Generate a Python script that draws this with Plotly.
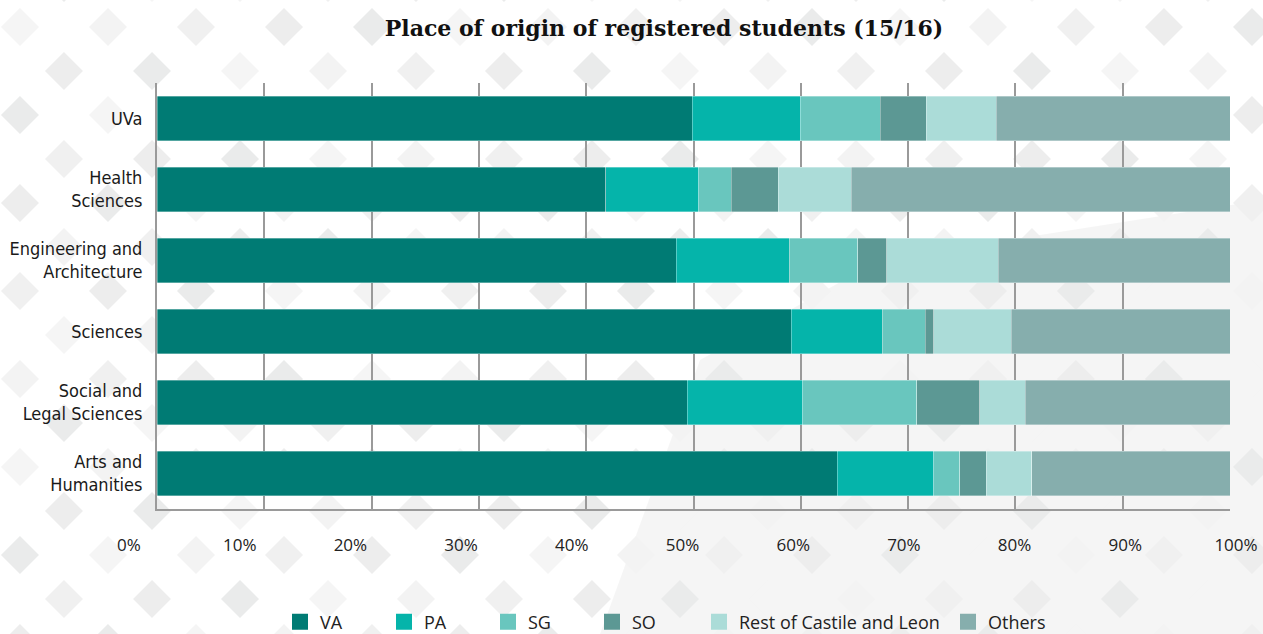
import plotly.graph_objects as go

# --- data -------------------------------------------------------------------
centres = ["UVa", "Health<br>Sciences", "Engineering and<br>Architecture",
           "Sciences", "Social and<br>Legal Sciences", "Arts and<br>Humanities"]

origins = ["VA", "PA", "SG", "SO", "Rest of Castile and Leon", "Others"]

va = [49.9, 41.8, 48.4, 59.1, 49.4, 63.4]
pa = [10.1, 8.7, 10.5, 8.5, 10.8, 9.0]
sg = [7.4, 3.0, 6.4, 4.0, 10.6, 2.4]
so = [4.3, 4.4, 2.7, 0.8, 5.9, 2.5]
rest_cyl = [6.5, 6.8, 10.4, 7.2, 4.2, 4.2]
others = [21.8, 35.3, 21.6, 20.4, 19.1, 18.5]

pct_ticks = [0, 10, 20, 30, 40, 50, 60, 70, 80, 90, 100]
pct_labels = [f"{v}%" for v in pct_ticks]

series = [va, pa, sg, so, rest_cyl, others]
colors = ["#007B74", "#05B4AA", "#69C6BE", "#5C9894", "#ABDCD8", "#86AEAD"]

# --- geometry of the page ------------------------------------------------------
W, H = 1263, 634
ML, MR, MT, MB = 120, 20, 83, 125
PW, PH = W - ML - MR, H - MT - MB


def px_x(p):
    return (p - ML) / PW


def px_y(p):
    return 1 - (p - MT) / PH


bar_domain = [px_x(157), px_x(1230)]
label_domain = [px_x(129), px_x(1236)]

fig = go.Figure()

for name, vals, col in zip(origins, series, colors):
    fig.add_trace(go.Bar(
        y=centres, x=vals, name=name, orientation="h",
        marker=dict(color=col, line=dict(color="rgba(255,255,255,0.55)", width=0.6)),
        legendgroup=name, showlegend=False,
        hovertemplate="%{y}: %{x:.1f}%<extra>" + name + "</extra>",
    ))

# legend entries with square swatches (they live on the percentage label axis)
legend_of = {"VA": "legend", "PA": "legend", "SG": "legend", "SO": "legend",
             "Rest of Castile and Leon": "legend2", "Others": "legend3"}
for name, col in zip(origins, colors):
    fig.add_trace(go.Scatter(
        x=[None], y=[None], mode="markers", name=name, legendgroup=name,
        xaxis="x2", yaxis="y", hoverinfo="skip",
        marker=dict(symbol="square", size=22, color=col),
        legend=legend_of[name],
    ))

# --- decorative background: grey watermark area and diamond lattice ----------
def poly(points):
    return "M" + " L".join(f"{px_x(x):.5f},{px_y(y):.5f}" for x, y in points) + " Z"


shapes = [dict(type="path", xref="paper", yref="paper", layer="below",
               path=poly([(600, 634), (700, 360), (880, 260), (1263, 200), (1263, 634)]),
               fillcolor="rgba(0,0,0,0.04)", line=dict(width=0))]

shades = ["#f5f5f5", "#f0f0f0", "#eaebeb", "#f3f3f3", "#ededed"]
paths = {s: "" for s in shades}
half = 19
for j in range(-1, 9):
    for i in range(-1, 16):
        for (ox, oy, k) in ((20, 27, 0), (64, 71, 1)):
            cx, cy = ox + 88 * i, oy + 88 * j
            s = shades[(i * 3 + j * 2 + k * 4) % len(shades)]
            paths[s] += poly([(cx - half, cy), (cx, cy - half), (cx + half, cy), (cx, cy + half)]) + " "
shapes += [dict(type="path", xref="paper", yref="paper", path=p, fillcolor=s,
                line=dict(width=0), layer="below") for s, p in paths.items()]

label_font = dict(family="DejaVu Sans Condensed, Liberation Sans Narrow, Roboto", size=18, color="#1a1a1a")
tick_font = dict(family="Open Sans", size=17, color="#222222")
legend_font = dict(family="Open Sans", size=18, color="#222222")

legend_common = dict(orientation="h", yanchor="middle", y=px_y(622), xanchor="left",
                     bgcolor="rgba(0,0,0,0)", font=legend_font,
                     itemclick=False, itemdoubleclick=False)

fig.update_layout(
    width=W, height=H,
    margin=dict(l=ML, r=MR, t=MT, b=MB, autoexpand=False),
    barmode="stack", bargap=0.38,
    paper_bgcolor="white", plot_bgcolor="rgba(0,0,0,0)",
    shapes=shapes,
    title=dict(text="Place of origin of registered students (15/16)",
               x=664 / W, xref="container", xanchor="center", y=1 - 28 / H, yanchor="middle",
               font=dict(family="DejaVu Serif", size=22, color="#111111", weight="bold")),
    xaxis=dict(domain=bar_domain, range=[0, 100], showticklabels=False, ticks="",
               tickvals=pct_ticks, showgrid=True, gridcolor="#9a9a9a", gridwidth=1.5,
               zeroline=False, showline=True, linecolor="#9a9a9a", linewidth=2,
               automargin=False, fixedrange=True),
    xaxis2=dict(domain=label_domain, range=[0, 100], anchor="y", side="bottom",
                tickvals=pct_ticks, ticktext=pct_labels, ticks="", ticklabelstandoff=24,
                showgrid=False, zeroline=False, showline=False, tickfont=tick_font,
                automargin=False, fixedrange=True),
    yaxis=dict(categoryorder="array", categoryarray=centres, range=[5.5, -0.5],
               showgrid=False, showline=True, linecolor="#9a9a9a", linewidth=2,
               ticks="", ticklabelstandoff=9, tickfont=label_font,
               automargin=False, fixedrange=True),
    legend=dict(legend_common, x=px_x(280), entrywidth=59, entrywidthmode="pixels"),
    legend2=dict(legend_common, x=px_x(699)),
    legend3=dict(legend_common, x=px_x(948)),
)

fig.write_html("out.html")
